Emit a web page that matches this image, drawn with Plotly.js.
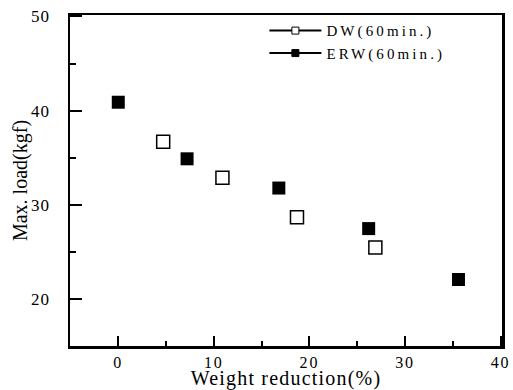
<!DOCTYPE html>
<html>
<head>
<meta charset="utf-8">
<script src="https://cdn.plot.ly/plotly-3.0.1.min.js"></script>
<style>
html,body{margin:0;padding:0;background:#fff;}
#chart{width:513px;height:390px;}
#chart .xtick text{letter-spacing:1.8px;}
#chart .ytick text{letter-spacing:1px;}
#chart .legendtext{letter-spacing:3.1px;}
#chart .g-xtitle text{letter-spacing:1.2px;}
#chart .legend .scrollbox{clip-path:none !important;}
</style>
</head>
<body>
<div id="chart"></div>
<script>
const dwX = [4.7, 10.9, 18.7, 26.9];
const dwY = [36.7, 32.9, 28.7, 25.5];
const erwX = [0, 7.2, 16.8, 26.2, 35.6];
const erwY = [40.9, 34.9, 31.8, 27.5, 22.1];
const seriesNames = ['DW(60min.)', 'ERW(60min.)'];

const font = "'Liberation Serif', 'Times New Roman', serif";

const traces = [
  {x: dwX, y: dwY, mode: 'markers', showlegend: false,
   marker: {symbol: 'square-open', size: 13, color: '#000', line: {width: 1.5, color: '#000'}}},
  {x: erwX, y: erwY, mode: 'markers', showlegend: false,
   marker: {symbol: 'square', size: 13, color: '#000'}},
  {x: [null], y: [null], mode: 'lines+markers', name: seriesNames[0],
   line: {color: '#000', width: 2},
   marker: {symbol: 'square', size: 7, color: '#fff', line: {width: 1, color: '#000'}}},
  {x: [null], y: [null], mode: 'lines+markers', name: seriesNames[1],
   line: {color: '#000', width: 2},
   marker: {symbol: 'square', size: 7, color: '#000', line: {width: 1, color: '#000'}}}
];

const layout = {
  width: 513, height: 390,
  margin: {l: 70, r: 11, t: 15, b: 44},
  paper_bgcolor: '#fff', plot_bgcolor: '#fff',
  font: {family: font, color: '#000', size: 15},
  showlegend: true,
  legend: {x: 0.450, y: 1.002, xanchor: 'left', yanchor: 'top',
           bgcolor: 'rgba(0,0,0,0)', font: {family: font, size: 15},
           tracegroupgap: 0, itemwidth: 52},
  xaxis: {
    range: [-5.05, 40.15], tickvals: [0, 10, 20, 30, 40], ticktext: ['0','10','20','30','40'],
    ticks: 'inside', ticklen: 10, tickwidth: 2, tickcolor: '#000',
    minor: {tickvals: [5, 15, 25, 35], ticks: 'inside', ticklen: 5, tickwidth: 2, tickcolor: '#000'},
    showline: true, linewidth: 2.5, linecolor: '#000', mirror: true,
    showgrid: false, zeroline: false,
    tickfont: {family: font, size: 16}, ticklabelstandoff: 0,
    title: {text: 'Weight reduction(%)', font: {family: font, size: 20}, standoff: 2},
    automargin: false
  },
  yaxis: {
    range: [15.05, 50.15], tickvals: [20, 30, 40, 50], ticktext: ['20','30','40','50'],
    ticks: 'inside', ticklen: 12, tickwidth: 2, tickcolor: '#000',
    minor: {tickvals: [25, 35, 45], ticks: 'inside', ticklen: 6, tickwidth: 2, tickcolor: '#000'},
    showline: true, linewidth: 2.5, linecolor: '#000', mirror: true,
    showgrid: false, zeroline: false,
    tickfont: {family: font, size: 17}, ticklabelstandoff: 14,
    title: {text: 'Max. load(kgf)', font: {family: font, size: 20}, standoff: 0},
    automargin: false
  }
};

Plotly.newPlot('chart', traces, layout, {displayModeBar: false, staticPlot: true});
</script>
</body>
</html>
